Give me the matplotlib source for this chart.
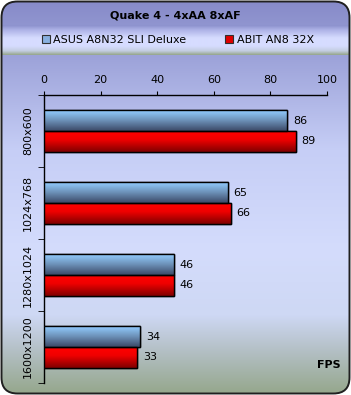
import numpy as np
import matplotlib
matplotlib.use('Agg')
import matplotlib.pyplot as plt
from matplotlib.patches import FancyBboxPatch, Patch

categories = ['800x600', '1024x768', '1280x1024', '1600x1200']
series_names = ['ASUS A8N32 SLI Deluxe', 'ABIT AN8 32X']
asus = [86, 65, 46, 34]
abit = [89, 66, 46, 33]
xticks = [0, 20, 40, 60, 80, 100]
title = 'Quake 4 - 4xAA 8xAF'
unit = 'FPS'

W, H = 351, 395
fig = plt.figure(figsize=(W / 100, H / 100), dpi=100)
fig.patch.set_facecolor('white')

# ---- background panel ----
bg = fig.add_axes([0, 0, 1, 1])
bg.set_xlim(0, W)
bg.set_ylim(H, 0)
bg.axis('off')

frame = FancyBboxPatch((1.5, 1.5), W - 3, H - 3,
                       boxstyle='round,pad=0,rounding_size=16',
                       facecolor='none', edgecolor='#202020', linewidth=1.4, zorder=5)
bg.add_patch(frame)

stops_y = [0, 60, 150, 250, 315, 350, 395]
stops_c = np.array([[134, 138, 200], [158, 164, 218], [198, 206, 246], [212, 220, 252],
                    [206, 216, 244], [180, 192, 198], [148, 166, 138]]) / 255.0
ys = np.arange(H) + 0.5
grad = np.stack([np.interp(ys, stops_y, stops_c[:, k]) for k in range(3)], axis=-1)[:, None, :]
im = bg.imshow(grad, extent=(0, W, H, 0), aspect='auto', interpolation='bilinear', zorder=1)
im.set_clip_path(frame)

# legend band
band_y = [25, 30, 38, 46, 51, 55]
band_c = np.array([[140, 145, 205], [175, 180, 232], [214, 220, 255], [214, 220, 255],
                   [196, 206, 226], [150, 166, 140]]) / 255.0
bys = np.linspace(25, 55, 60)
bgrad = np.stack([np.interp(bys, band_y, band_c[:, k]) for k in range(3)], axis=-1)[:, None, :]
im2 = bg.imshow(bgrad, extent=(0, W, 55, 25), aspect='auto', interpolation='bilinear', zorder=2)
im2.set_clip_path(frame)
bg.set_xlim(0, W)
bg.set_ylim(H, 0)

# ---- main chart ----
ax = fig.add_axes([44 / W, 1 - 383 / H, 283 / W, 288 / H])
ax.set_facecolor('none')

pos = np.arange(len(categories))
bh = 0.29
off = 0.145
b1 = ax.barh(pos - off, asus, height=bh, color='#80a8d8', edgecolor='black', linewidth=1, zorder=3)
b2 = ax.barh(pos + off, abit, height=bh, color='#e00000', edgecolor='black', linewidth=1, zorder=3)


def bar_grad(bars, top, mid, bot, midpos):
    n = 40
    t = np.linspace(0, 1, n)
    cols = np.array([top, mid, bot]) / 255.0
    g = np.stack([np.interp(t, [0, midpos, 1], cols[:, k]) for k in range(3)], axis=-1)[:, None, :]
    for p in bars:
        x, y, w, h = p.get_x(), p.get_y(), p.get_width(), p.get_height()
        img = ax.imshow(g, extent=(x, x + w, y + h, y), aspect='auto',
                        interpolation='bilinear', zorder=3.5)
        img.set_clip_path(p)
        edge = plt.Rectangle((x, y), w, h, facecolor='none', edgecolor='black',
                             linewidth=1, zorder=4)
        ax.add_patch(edge)


bar_grad(b1, (146, 204, 255), (112, 150, 190), (60, 74, 104), 0.45)
bar_grad(b2, (255, 0, 0), (240, 0, 0), (128, 0, 0), 0.4)

for bars, vals in ((b1, asus), (b2, abit)):
    for p, v in zip(bars, vals):
        ax.annotate(str(v), (p.get_width(), p.get_y() + p.get_height() / 2),
                    xytext=(4, 0), textcoords='offset points', va='center', ha='left',
                    fontsize=8, color='black')

ax.set_xlim(0, 100)
ax.set_ylim(len(categories) - 0.5, -0.5)
ax.xaxis.tick_top()
ax.set_xticks(xticks)
ax.set_xticklabels([str(t) for t in xticks])
ax.tick_params(axis='x', direction='out', length=3, pad=4, labelsize=8, colors='black')
ax.set_yticks(pos)
ax.set_yticklabels(categories, rotation=90, va='center')
ax.set_yticks(np.arange(-0.5, len(categories), 1.0), minor=True)
ax.tick_params(axis='y', which='major', length=0, pad=8, labelsize=8)
ax.tick_params(axis='y', which='minor', direction='out', length=4)
for s in ('right', 'bottom'):
    ax.spines[s].set_visible(False)
for s in ('left', 'top'):
    ax.spines[s].set_color('black')
    ax.spines[s].set_linewidth(1)

# ---- texts ----
fig.text(175 / W, 1 - 15 / H, title, ha='center', va='center', fontsize=8, fontweight='bold')
fig.text(341 / W, 1 - 365 / H, unit, ha='right', va='center', fontsize=8, fontweight='bold')

handles = [Patch(facecolor='#88b0e0', edgecolor='#303030', linewidth=0.8),
           Patch(facecolor='#e00000', edgecolor='#303030', linewidth=0.8)]
fig.legend(handles, series_names, loc='center', bbox_to_anchor=(178 / W, 1 - 40 / H),
           ncol=2, frameon=False, fontsize=8, handlelength=0.7, handleheight=0.7,
           handletextpad=0.3, columnspacing=3.5, borderpad=0, borderaxespad=0)

fig.savefig('out.png', dpi=100)
